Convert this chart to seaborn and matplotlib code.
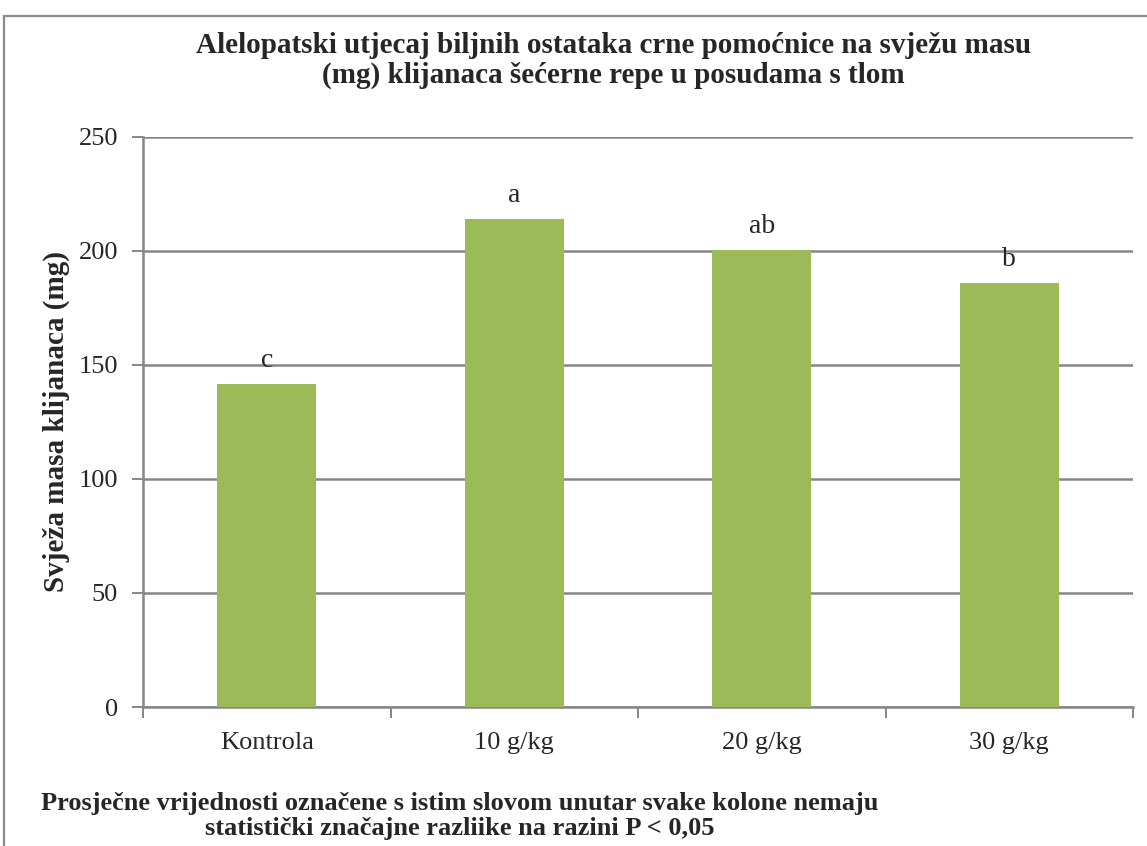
import matplotlib
matplotlib.use("Agg")
import matplotlib.pyplot as plt
from matplotlib.patches import Rectangle
from matplotlib.ticker import FixedLocator, NullFormatter
import seaborn as sns
import pandas as pd

# Treatment groups, mean fresh mass of seedlings and significance letters
categories = ["Kontrola", "10 g/kg", "20 g/kg", "30 g/kg"]
fresh_mass = [141.5, 214.0, 200.5, 186.0]
letters = ["c", "a", "ab", "b"]
y_ticks = [0, 50, 100, 150, 200, 250]

title = ("Alelopatski utjecaj biljnih ostataka crne pomoćnice na svježu masu\n"
         "(mg) klijanaca šećerne repe u posudama s tlom")
y_label = "Svježa masa klijanaca (mg)"
footnote = ("Prosječne vrijednosti označene s istim slovom unutar svake kolone nemaju\n"
            "statistički značajne razliike na razini P < 0,05")

sns.set_theme(style="white")
plt.rcParams["font.family"] = ["Liberation Serif", "DejaVu Serif"]

df = pd.DataFrame({"grupa": categories, "masa": fresh_mass})

fig = plt.figure(figsize=(11.47, 8.46), dpi=100)
fig.patch.set_facecolor("white")
ax = fig.add_axes([0.1247, 0.1643, 0.8631, 0.6738])

grid_col = "#868686"
bar_col = "#9BBB59"

sns.barplot(data=df, x="grupa", y="masa", color=bar_col, width=0.4,
            saturation=1, linewidth=0, ax=ax, zorder=3)

ax.set_ylim(0, 250)
ax.set_xlim(-0.5, len(categories) - 0.5)
ax.set_yticks(y_ticks)
ax.yaxis.grid(True, color=grid_col, linewidth=1.8, zorder=0)
ax.xaxis.grid(False)
ax.set_axisbelow(True)

for side in ["top", "right"]:
    ax.spines[side].set_visible(False)
for side in ["left", "bottom"]:
    ax.spines[side].set_color(grid_col)
    ax.spines[side].set_linewidth(1.8)

ax.tick_params(axis="y", which="major", direction="out", length=8, width=1.4,
               color=grid_col, labelsize=19, pad=10, left=True)
ax.tick_params(axis="x", which="major", length=0, labelsize=19, pad=18)
ax.xaxis.set_minor_locator(FixedLocator([i - 0.5 for i in range(len(categories) + 1)]))
ax.xaxis.set_minor_formatter(NullFormatter())
ax.tick_params(axis="x", which="minor", direction="out", length=8, width=1.4,
               color=grid_col, bottom=True)

ax.set_xlabel("")
ax.set_ylabel(y_label, fontsize=21, fontweight="bold", labelpad=6)

for bar, letter, val in zip(ax.patches, letters, fresh_mass):
    ax.annotate(letter, (bar.get_x() + bar.get_width() / 2, val),
                xytext=(0, 8), textcoords="offset points",
                ha="center", va="bottom", fontsize=20)

fig.text(0.535, 0.928, title, ha="center", va="center", fontsize=21,
         fontweight="bold", linespacing=1.12)
fig.text(0.401, 0.0355, footnote, ha="center", va="center", fontsize=19,
         fontweight="bold", linespacing=1.1)

# Outer chart frame
fig.add_artist(Rectangle((4 / 1147, -0.05), 1.2, 1 - 16 / 846 + 0.05,
                         transform=fig.transFigure, fill=False,
                         edgecolor="#8c8c8c", linewidth=1.6))

fig.savefig("out.png", dpi=100)
